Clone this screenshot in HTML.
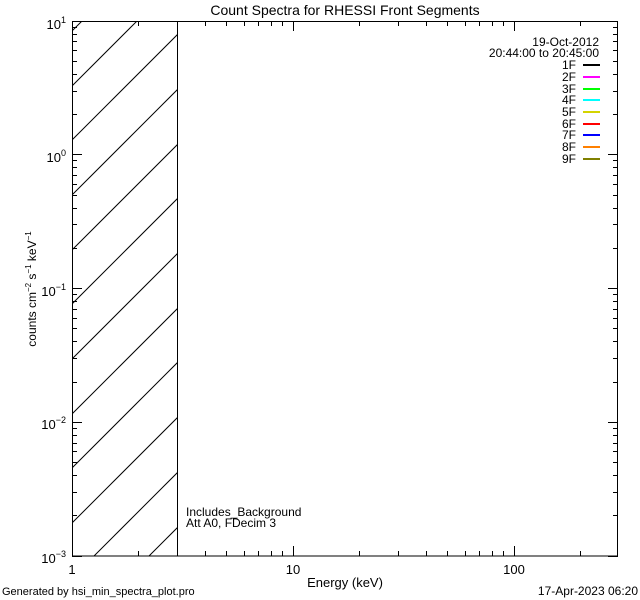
<!DOCTYPE html>
<html><head><meta charset="utf-8"><style>
html,body{margin:0;padding:0;background:#fff;width:640px;height:600px;overflow:hidden}
svg{display:block}
text{font-family:"Liberation Sans",sans-serif;fill:#000}
</style></head><body>
<svg width="640" height="600" xmlns="http://www.w3.org/2000/svg">
<defs><clipPath id="c"><rect x="72" y="21" width="105.5" height="535"/></clipPath></defs>
<g clip-path="url(#c)" stroke="#000" stroke-width="1">
<line x1="72" y1="-133" x2="272" y2="-333"/>
<line x1="72" y1="-78" x2="272" y2="-278"/>
<line x1="72" y1="-24" x2="272" y2="-224"/>
<line x1="72" y1="31" x2="272" y2="-169"/>
<line x1="72" y1="86" x2="272" y2="-114"/>
<line x1="72" y1="140" x2="272" y2="-60"/>
<line x1="72" y1="195" x2="272" y2="-5"/>
<line x1="72" y1="250" x2="272" y2="50"/>
<line x1="72" y1="304" x2="272" y2="104"/>
<line x1="72" y1="359" x2="272" y2="159"/>
<line x1="72" y1="414" x2="272" y2="214"/>
<line x1="72" y1="468" x2="272" y2="268"/>
<line x1="72" y1="523" x2="272" y2="323"/>
<line x1="72" y1="578" x2="272" y2="378"/>
<line x1="72" y1="633" x2="272" y2="433"/>
<line x1="72" y1="687" x2="272" y2="487"/>
<line x1="72" y1="742" x2="272" y2="542"/>
</g>
<path stroke="#000" stroke-width="1" fill="none" d="
M72.5 556v-10M72.5 21v10M293.5 556v-10M293.5 21v10M514.5 556v-10M514.5 21v10
M138.5 556v-5M138.5 21v5M177.5 556v-5M205.5 556v-5M205.5 21v5M226.5 556v-5M226.5 21v5M244.5 556v-5M244.5 21v5M258.5 556v-5M258.5 21v5M271.5 556v-5M271.5 21v5M282.5 556v-5M282.5 21v5
M359.5 556v-5M359.5 21v5M398.5 556v-5M398.5 21v5M426.5 556v-5M426.5 21v5M447.5 556v-5M447.5 21v5M465.5 556v-5M465.5 21v5M479.5 556v-5M479.5 21v5M492.5 556v-5M492.5 21v5M503.5 556v-5M503.5 21v5
M580.5 556v-5M580.5 21v5
M72 556.5h10M618 556.5h-10M72 422.5h10M618 422.5h-10M72 288.5h10M618 288.5h-10M72 154.5h10M618 154.5h-10M72 21.5h10M618 21.5h-10
M72 515.5h5M618 515.5h-5M72 492.5h5M618 492.5h-5M72 475.5h5M618 475.5h-5M72 462.5h5M618 462.5h-5M72 451.5h5M618 451.5h-5M72 443.5h5M618 443.5h-5M72 435.5h5M618 435.5h-5M72 428.5h5M618 428.5h-5
M72 382.5h5M618 382.5h-5M72 358.5h5M618 358.5h-5M72 341.5h5M618 341.5h-5M72 328.5h5M618 328.5h-5M72 318.5h5M618 318.5h-5M72 309.5h5M618 309.5h-5M72 301.5h5M618 301.5h-5M72 294.5h5M618 294.5h-5
M72 248.5h5M618 248.5h-5M72 224.5h5M618 224.5h-5M72 208.5h5M618 208.5h-5M72 195.5h5M618 195.5h-5M72 184.5h5M618 184.5h-5M72 175.5h5M618 175.5h-5M72 167.5h5M618 167.5h-5M72 160.5h5M618 160.5h-5
M72 114.5h5M618 114.5h-5M72 91.5h5M618 91.5h-5M72 74.5h5M618 74.5h-5M72 61.5h5M618 61.5h-5M72 50.5h5M618 50.5h-5M72 41.5h5M618 41.5h-5M72 34.5h5M618 34.5h-5M72 27.5h5M618 27.5h-5"/>
<rect x="72.5" y="21.5" width="545" height="534.5" fill="none" stroke="#000" stroke-width="1"/>
<line x1="177.5" y1="21" x2="177.5" y2="556" stroke="#000"/>
<text x="345" y="15" font-size="14" text-anchor="middle">Count Spectra for RHESSI Front Segments</text>
<g font-size="13" text-anchor="end">
<text x="66" y="29">10<tspan font-size="9" dy="-6">1</tspan></text>
<text x="66" y="162">10<tspan font-size="9" dy="-6">0</tspan></text>
<text x="66" y="296">10<tspan font-size="9" dy="-6">−1</tspan></text>
<text x="66" y="429">10<tspan font-size="9" dy="-6">−2</tspan></text>
<text x="66" y="563">10<tspan font-size="9" dy="-6">−3</tspan></text>
</g>
<g font-size="13" text-anchor="middle">
<text x="72" y="574">1</text>
<text x="293" y="574">10</text>
<text x="514" y="574">100</text>
<text x="345" y="587">Energy (keV)</text>
</g>
<text transform="translate(36,289) rotate(-90)" font-size="12" text-anchor="middle">counts cm<tspan font-size="8" dy="-5">−2</tspan><tspan dy="5"> s</tspan><tspan font-size="8" dy="-5">−1</tspan><tspan dy="5"> keV</tspan><tspan font-size="8" dy="-5">−1</tspan></text>
<text x="186" y="516" font-size="12">Includes_Background</text>
<text x="186" y="527" font-size="12">Att A0, FDecim 3</text>
<text x="2" y="595" font-size="11">Generated by hsi_min_spectra_plot.pro</text>
<text x="638" y="595" font-size="12" text-anchor="end">17-Apr-2023 06:20</text>
<g font-size="12" text-anchor="end">
<text x="599" y="46">19-Oct-2012</text>
<text x="599" y="57">20:44:00 to 20:45:00</text>
<text x="576" y="69">1F</text><text x="576" y="81">2F</text><text x="576" y="93">3F</text>
<text x="576" y="104">4F</text><text x="576" y="116">5F</text><text x="576" y="128">6F</text>
<text x="576" y="139">7F</text><text x="576" y="151">8F</text><text x="576" y="163">9F</text>
</g>
<g stroke-width="2">
<line x1="583" x2="600" y1="65" y2="65" stroke="#000"/>
<line x1="583" x2="600" y1="77" y2="77" stroke="#ff00ff"/>
<line x1="583" x2="600" y1="89" y2="89" stroke="#00ff00"/>
<line x1="583" x2="600" y1="100" y2="100" stroke="#00ffff"/>
<line x1="583" x2="600" y1="112" y2="112" stroke="#d4d400"/>
<line x1="583" x2="600" y1="124" y2="124" stroke="#ff0000"/>
<line x1="583" x2="600" y1="135" y2="135" stroke="#0000ff"/>
<line x1="583" x2="600" y1="147" y2="147" stroke="#ff8000"/>
<line x1="583" x2="600" y1="159" y2="159" stroke="#808000"/>
</g>
</svg>
</body></html>
